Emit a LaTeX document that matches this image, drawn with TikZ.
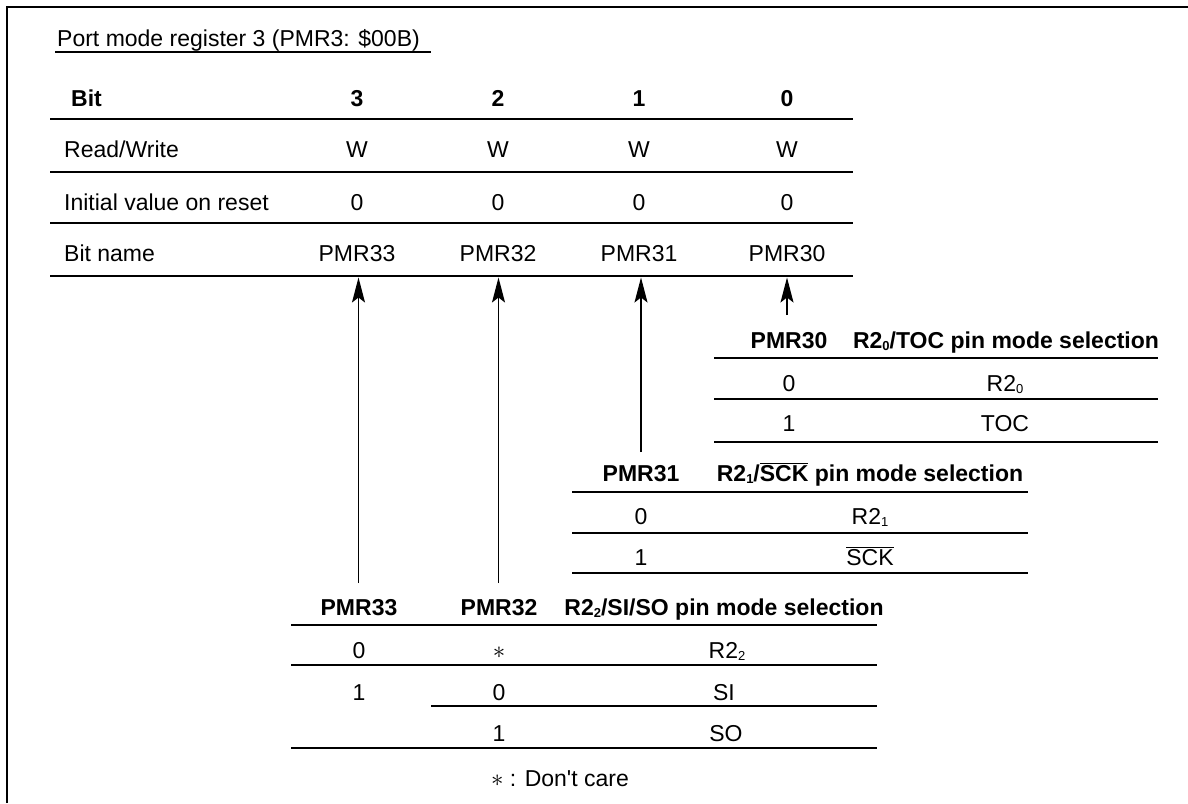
\documentclass[tikz,border=0pt]{standalone}
\usepackage{fontspec}
\setmainfont{Liberation Sans}
\usetikzlibrary{arrows.meta}
\newcommand\fs{\fontsize{23}{27.6}\selectfont}
\newcommand\subdig[1]{\raisebox{-2pt}{\fontsize{13}{13}\selectfont #1}}
\newcommand\straightquote{{\XeTeXglyph\XeTeXcharglyph"0027\relax}}
\begin{document}
\begin{tikzpicture}[x=1pt,y=-1pt,
  txt/.style={anchor=base, inner sep=0pt, font=\fs},
  txtl/.style={txt, anchor=base west},
  hdr/.style={txt, font=\fs\bfseries},
  thickrule/.style={line width=2.6pt},
  thinrule/.style={line width=1.3pt},
  arr/.style={line width=1.4pt, -{Stealth[length=25pt,width=13pt,inset=5pt]}}]
\useasboundingbox (0,0) rectangle (1188,803);
\fill[white] (0,0) rectangle (1188,803);
% frame
\draw[line width=2pt] (7,803) -- (7,7) -- (1188,7);
% title
\node[txtl] (title) at (57,46) {Port mode register 3 (PMR3: \$00B)};
\draw[thinrule] (55,52) -- (431,52);
% main table
\node[hdr, anchor=base west] (bit) at (71,106) {Bit};
\node[hdr] (b3) at (357,106) {3};
\node[hdr] (b2) at (498,106) {2};
\node[hdr] (b1) at (639,106) {1};
\node[hdr] (b0) at (787,106) {0};
\draw[thickrule] (50,119) -- (853,119);
\node[txtl] (rw) at (64,157) {Read/Write};
\node[txt] (rw3) at (357,157) {W};
\node[txt] (rw2) at (498,157) {W};
\node[txt] (rw1) at (639,157) {W};
\node[txt] (rw0) at (787,157) {W};
\draw[thinrule] (50,172) -- (853,172);
\node[txtl] (iv) at (64,210) {Initial value on reset};
\node[txt] (iv3) at (357,210) {0};
\node[txt] (iv2) at (498,210) {0};
\node[txt] (iv1) at (639,210) {0};
\node[txt] (iv0) at (787,210) {0};
\draw[thinrule] (50,223) -- (853,223);
\node[txtl] (bn) at (64,261) {Bit name};
\node[txt] (bn3) at (357,261) {PMR33};
\node[txt] (bn2) at (498,261) {PMR32};
\node[txt] (bn1) at (639,261) {PMR31};
\node[txt] (bn0) at (787,261) {PMR30};
\draw[thickrule] (50,276) -- (853,276);
% arrows
\coordinate (e33) at (358.5,277.5);
\coordinate (e32) at (498.5,277.5);
\coordinate (e31) at (641,277.5);
\coordinate (e30) at (787,277.5);
\coordinate (s33) at (358.5,583);
\coordinate (s32) at (498.5,583);
\coordinate (s31) at (641,452);
\coordinate (s30) at (787,315);
\draw[arr] (s33) -- (e33);
\draw[arr] (s32) -- (e32);
\draw[arr] (s31) -- (e31);
\draw[arr] (s30) -- (e30);
% PMR30 table
\node[hdr] (p30h) at (789,348) {PMR30};
\node[hdr] (p30t) at (1006,348) {R2\subdig{0}/TOC pin mode selection};
\draw[thickrule] (714,358) -- (1158,358);
\node[txt] (p30a) at (789,391) {0};
\node[txt] (p30av) at (1005,391) {R2\subdig{0}};
\draw[thinrule] (714,399) -- (1158,399);
\node[txt] (p30b) at (789,431) {1};
\node[txt] (p30bv) at (1005,431) {TOC};
\draw[thickrule] (714,442) -- (1158,442);
% PMR31 table
\node[hdr] (p31h) at (641,481) {PMR31};
\node[hdr] (p31t) at (870,481) {R2\subdig{1}/$\overline{\hbox{SCK}}$ pin mode selection};
\draw[thickrule] (572,492) -- (1028,492);
\node[txt] (p31a) at (641,524) {0};
\node[txt] (p31av) at (870,524) {R2\subdig{1}};
\draw[thinrule] (572,533) -- (1028,533);
\node[txt] (p31b) at (641,565) {1};
\node[txt] (p31bv) at (870,565) {$\overline{\hbox{SCK}}$};
\draw[thickrule] (572,573) -- (1028,573);
% PMR33/32 table
\node[hdr] (p33h) at (359,615) {PMR33};
\node[hdr] (p32h) at (499,615) {PMR32};
\node[hdr] (p3t) at (724,615) {R2\subdig{2}/SI/SO pin mode selection};
\draw[thickrule] (291,625) -- (877,625);
\node[txt] (r0a) at (359,658) {0};
\node[txt] (r0b) at (499,658) {$\ast$};
\node[txt] (r0c) at (727,658) {R2\subdig{2}};
\draw[thinrule] (291,665) -- (877,665);
\node[txt] (r1a) at (359,700) {1};
\node[txt] (r1b) at (499,700) {0};
\node[txt] (r1c) at (724,700) {SI};
\draw[thinrule] (431,706) -- (877,706);
\node[txt] (r2b) at (499,741) {1};
\node[txt] (r2c) at (726,741) {SO};
\draw[thickrule] (291,748) -- (877,748);
\node[txt] (note) at (560,786) {$\ast$ : Don\straightquote t care};
\end{tikzpicture}
\end{document}
